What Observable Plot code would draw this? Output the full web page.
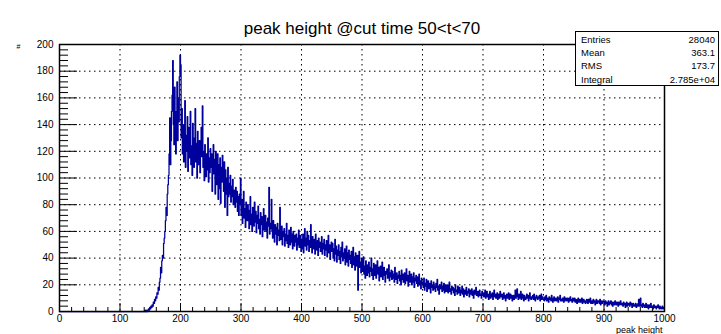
<!DOCTYPE html>
<html>
<head>
<meta charset="utf-8">
<script src="https://cdn.jsdelivr.net/npm/d3@7"></script>
<script src="https://cdn.jsdelivr.net/npm/@observablehq/plot@0.6"></script>
<style>
  html, body { margin: 0; padding: 0; background: #fff; }
  #wrap { position: relative; width: 721px; height: 334px; font-family: "Liberation Sans", Arial, sans-serif; }
  #stats { position: absolute; left: 575px; top: 31px; width: 144px; height: 55px; border: 1px solid #000; background: #fff; font-size: 9.5px; color: #000; box-sizing: border-box; padding: 1px 3px 0 5px; }
  #stats .row { display: flex; justify-content: space-between; height: 13.2px; line-height: 13.2px; }
</style>
</head>
<body>
<div id="wrap"></div>
<script>
// ---- histogram contents (1 unit wide bins, 0..1000) ----
const counts_000_199 = [
  0,0,0,0,0,0,0,0,0,0, 0,0,0,0,0,0,0,0,0,0, 0,0,0,0,0,0,0,0,0,0, 0,0,0,0,0,0,0,0,0,0,
  0,0,0,0,0,0,0,0,0,0, 0,0,0,0,0,0,0,0,0,0, 0,0,0,0,0,0,0,0,0,0, 0,0,0,0,0,0,0,0,0,0,
  0,0,0,0,0,0,0,0,0,0, 0,0,0,0,0,0,0,0,0,0, 0,0,0,0,0,0,0,0,0,0, 0,0,0,0,0,0,0,0,0,0,
  0,0,0,0,0,0,0,0,0,0, 0,0,0,0,0,0,0,0,0,0,
  0,1,0,0,1,0,1,2,1,3,
  2,4,3,5,4,7,6,9,8,11,
  10,14,13,18,16,22,25,33,29,38,
  42,40,51,55,60,68,78,72,88,95,
  102,118,145,110,128,150,162,188,140,125,
  168,135,118,150,172,128,160,142,176,192
];
const counts_200_399 = [
  185,130,152,118,140,112,125,158,108,132,
  120,146,105,138,115,128,150,110,124,102,
  141,118,108,130,152,112,126,100,135,119,
  110,128,104,122,138,116,154,108,120,98,
  125,112,101,118,106,130,97,115,104,122,
  108,118,90,112,125,103,114,88,120,106,
  95,118,84,110,92,115,81,108,97,117,
  103,90,112,78,106,88,100,72,108,86,
  96,88,102,82,94,86,99,80,91,85,
  78,93,82,90,75,86,72,88,80,100,
  72,84,66,79,90,70,77,63,82,74,
  68,80,71,62,76,86,65,73,60,78,
  70,64,82,67,75,59,72,66,79,62,
  69,58,74,65,71,56,68,77,61,66,
  72,60,67,55,70,64,93,58,66,62,
  84,60,55,68,62,52,65,58,63,50,
  66,57,61,53,78,59,54,64,50,60,
  56,62,49,58,53,66,51,57,48,61,
  55,50,63,52,58,47,60,54,49,57,
  52,58,46,55,50,61,48,53,57,45
];
const counts_400_599 = [
  54,47,58,44,52,62,49,55,46,60,
  50,57,45,53,48,65,51,44,56,49,
  47,54,43,58,50,46,53,42,55,48,
  52,45,49,56,43,51,47,54,42,50,
  46,53,41,48,57,44,50,39,47,52,
  45,51,40,47,38,54,43,49,37,46,
  42,50,39,45,36,48,41,52,38,44,
  40,47,35,43,49,37,44,34,46,39,
  42,36,45,33,40,48,35,41,31,44,
  38,34,42,16,39,45,33,37,29,40,
  36,30,41,28,34,25,38,31,27,35,
  29,37,26,33,30,40,27,32,24,36,
  31,27,35,25,30,38,28,33,23,29,
  34,26,31,37,24,29,33,27,22,30,
  28,32,25,30,35,23,29,26,31,24,
  30,25,28,22,33,26,24,29,21,27,
  25,30,23,27,20,31,24,28,22,26,
  29,21,25,32,23,27,19,25,30,22,
  24,28,20,26,22,29,18,25,23,27,
  21,26,19,24,28,20,23,17,25,21
];
const counts_600_799 = [
  22,18,25,16,21,19,24,15,20,23,
  17,21,19,14,23,18,20,16,22,17,
  19,15,21,18,24,16,19,13,20,17,
  18,22,15,19,16,21,14,18,20,15,
  17,20,14,18,22,15,17,13,19,16,
  18,14,17,12,20,15,16,13,19,14,
  15,18,12,16,14,19,13,17,11,15,
  16,13,18,12,15,14,17,11,16,13,
  14,17,12,15,10,16,13,14,18,12,
  13,15,11,14,16,12,13,10,15,12,
  14,11,13,16,10,12,15,11,13,9,
  12,15,10,13,11,14,9,12,16,11,
  13,10,12,14,9,11,13,10,15,12,
  11,13,9,12,14,10,12,8,11,13,
  10,12,14,9,11,13,10,12,8,11,
  12,9,11,16,10,12,17,11,9,13,
  10,12,15,9,11,13,10,8,12,11,
  9,11,13,10,12,8,11,14,10,9,
  11,10,12,9,13,10,8,11,12,10,
  9,11,10,12,8,10,13,9,11,10
];
const counts_800_999 = [
  10,8,11,9,12,8,10,9,7,11,
  9,10,8,12,9,7,10,11,8,9,
  10,8,9,11,7,10,9,12,8,9,
  8,10,9,7,11,8,10,9,8,10,
  9,7,10,8,11,9,8,7,10,8,
  8,10,7,9,8,6,9,10,7,8,
  9,7,8,10,6,8,9,7,8,6,
  7,9,8,6,9,7,8,10,6,7,
  8,6,9,7,8,5,7,9,6,8,
  7,8,6,9,5,7,8,6,7,8,
  7,5,8,6,7,4,6,8,5,7,
  6,8,5,7,4,6,7,5,8,6,
  5,7,6,4,7,5,6,8,5,6,
  6,4,7,5,6,3,5,7,4,6,
  5,6,4,7,5,6,3,5,6,4,
  5,4,6,3,5,4,6,9,4,5,
  10,4,5,3,6,4,5,3,4,6,
  3,5,4,2,5,3,4,6,3,4,
  4,2,5,3,4,3,2,4,3,5,
  3,2,4,3,2,3,4,2,3,2
];

// ---- axis ticks / labels ----
const xMajorTicks = [0,100,200,300,400,500,600,700,800,900,1000];
const yMajorTicks = [0,20,40,60,80,100,120,140,160,180,200];
const titleText = "peak height @cut time 50<t<70";
const xTitle = "peak height";
const yTitle = "#";
const statNames = ["Entries", "Mean", "RMS", "Integral"];
const statValues = ["28040", "363.1", "173.7", "2.785e+04"];

// ---- build ----
const counts = [].concat(counts_000_199, counts_200_399, counts_400_599, counts_600_799, counts_800_999);
const hist = counts.map((c, i) => ({x: i, y: c}));
hist.push({x: counts.length, y: counts[counts.length - 1]});

const W = 721, H = 334, mL = 59, mR = 57, mT = 44, mB = 23;
const plotW = W - mL - mR, plotH = H - mT - mB;
const xMinor = d3.range(0, 1001, 20).filter(v => v % 100 !== 0);
const yMinor = d3.range(0, 201, 4).filter(v => v % 20 !== 0);
const lineColor = "#00009c";

const chart = Plot.plot({
  width: W, height: H,
  marginLeft: mL, marginRight: mR, marginTop: mT, marginBottom: mB,
  style: {fontFamily: "Liberation Sans, Arial, sans-serif", background: "#fff", color: "#000", overflow: "visible"},
  x: {domain: [0, 1000], axis: null},
  y: {domain: [0, 200], axis: null},
  marks: [
    Plot.ruleX(xMajorTicks.slice(1, -1), {x: d => d, stroke: "#000", strokeWidth: 1, strokeDasharray: "1.5,3.5"}),
    Plot.ruleY(yMajorTicks.slice(1, -1), {y: d => d, stroke: "#000", strokeWidth: 1, strokeDasharray: "1.5,3.5"}),
    Plot.lineY(hist, {x: "x", y: "y", curve: "step-after", stroke: lineColor, strokeWidth: 1.25}),
    Plot.tickX(xMinor, {x: d => d, stroke: "#000", insetTop: plotH - 4}),
    Plot.tickX(xMajorTicks, {x: d => d, stroke: "#000", insetTop: plotH - 8}),
    Plot.tickY(yMinor, {y: d => d, stroke: "#000", insetRight: plotW - 9}),
    Plot.tickY(yMajorTicks, {y: d => d, stroke: "#000", insetRight: plotW - 18}),
    Plot.frame({stroke: "#000", strokeWidth: 1.5}),
    Plot.text(xMajorTicks, {x: d => d, frameAnchor: "bottom", dy: 3, lineAnchor: "top", text: d => String(d), fontSize: 10, fill: "#000"}),
    Plot.text(yMajorTicks, {y: d => d, frameAnchor: "left", dx: -6, textAnchor: "end", text: d => String(d), fontSize: 10, fill: "#000"}),
    Plot.text([xTitle], {frameAnchor: "bottom-right", dx: -2, dy: 19, textAnchor: "end", lineAnchor: "middle", text: d => d, fontSize: 9, fill: "#000"}),
    Plot.text([yTitle], {frameAnchor: "top-left", dx: -43, dy: 0, text: d => d, fontSize: 7, fill: "#000"}),
    Plot.text([titleText], {frameAnchor: "top", dy: -23, text: d => d, fontSize: 17, fill: "#000"})
  ]
});

const wrap = document.getElementById("wrap");
wrap.appendChild(chart);
const stats = document.createElement("div");
stats.id = "stats";
statNames.forEach((n, i) => {
  const row = document.createElement("div");
  row.className = "row";
  const a = document.createElement("span"); a.textContent = n;
  const b = document.createElement("span"); b.textContent = statValues[i];
  row.appendChild(a); row.appendChild(b);
  stats.appendChild(row);
});
wrap.appendChild(stats);
</script>
</body>
</html>
